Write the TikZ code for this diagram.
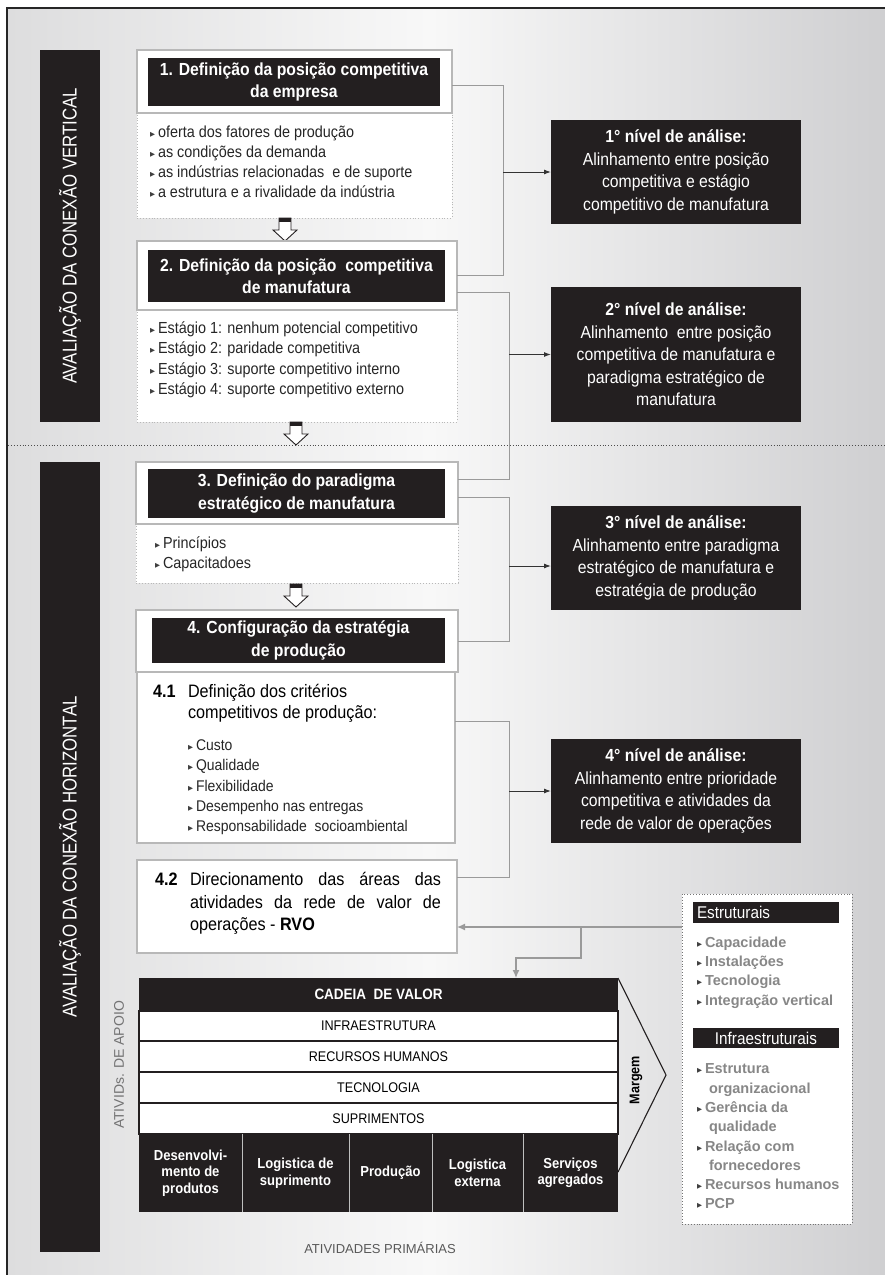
\documentclass[tikz,border=0pt]{standalone}
\usepackage{fontspec}
\setmainfont{Liberation Sans}[FakeStretch=0.9]
\newfontfamily\narrowfont{Liberation Sans}[FakeStretch=0.84]
\newfontfamily\wideFont{Liberation Sans}
\newfontfamily\symfont{DejaVu Sans}
\usetikzlibrary{arrows.meta}
\definecolor{blk}{HTML}{231F20}
\definecolor{bgL}{HTML}{DDDDDE}
\definecolor{bgM}{HTML}{F8F8F8}
\definecolor{bgR}{HTML}{CFCFD1}
\definecolor{lineg}{HTML}{9A9A9A}
\definecolor{boxg}{HTML}{B8B8B8}
\definecolor{itemg}{HTML}{878787}
\newcommand\fs[2]{\fontsize{#1}{#2}\selectfont}
\newcommand\bul{{\symfont\fs{6.5}{7}\color{black!75}\raisebox{0.25ex}{▶}}\hspace{3pt}}
\begin{document}
\begin{tikzpicture}[x=1pt,y=-1pt,
  every node/.style={inner sep=0pt, outer sep=0pt},
  outerbox/.style={draw=boxg, fill=white, line width=1.1pt, anchor=north west},
  listbox/.style={draw=boxg, fill=white, dotted, line width=0.9pt, anchor=north west},
  titlebox/.style={fill=blk, text=white, align=center, font=\bfseries\fs{17.5}{22.5}},
  item/.style={anchor=base west, font=\fs{16}{20}, text=black!85},
  nivel/.style={fill=blk, text=white, align=center, font=\fs{17.5}{22.5}, minimum width=250pt},
  bar/.style={fill=blk, text=white, rotate=90, minimum height=60pt, font=\narrowfont\fs{20}{24}},
  conn/.style={draw=lineg, line width=0.9pt},
  arr/.style={draw=black!80, line width=1pt, -{Latex[length=7pt,width=5pt]}},
  garr/.style={draw=lineg, line width=1.3pt, -{Latex[length=8pt,width=7pt]}},
  row/.style={draw=blk, line width=1.2pt, fill=white, minimum width=479pt, anchor=north west, font=\fs{14}{16}},
  prim/.style={fill=blk, text=white, align=center, anchor=north west, minimum height=78pt, font=\bfseries\fs{14.5}{16.5}},
  pitem/.style={anchor=base west, font=\wideFont\bfseries\fs{14.5}{18}, text=itemg},
  blockarrow/.pic={
    \draw[fill=white, line width=0.9pt, draw=blk] (-6,0) -- (6,0) -- (6,12) -- (12,12) -- (0,23) -- (-12,12) -- (-6,12) -- cycle;
    \fill[blk] (-6,0) rectangle (6,3.5);
  }]
\useasboundingbox (0,0) rectangle (885,1275);
% background
\fill[white] (0,0) rectangle (885,1275);
\shade[left color=bgL, right color=bgM] (7,8) rectangle (430,1275);
\shade[left color=bgM, right color=bgR] (430,8) rectangle (885,1275);
\draw[line width=1.3pt, black!85] (7,1275) -- (7,8) -- (885,8);

% side bars
\node[bar, minimum width=372pt] (barV) at (70,236) {AVALIAÇÃO DA CONEXÃO VERTICAL};
\node[bar, minimum width=790pt] (barH) at (70,857) {AVALIAÇÃO DA CONEXÃO HORIZONTAL};

% dotted separator
\coordinate (dl) at (8,445);
\coordinate (dr) at (885,445);
\draw[dotted, line width=0.9pt, black!70] (dl) -- (dr);

% box 1
\node[listbox, minimum width=315pt, minimum height=105pt] (l1) at (137,113) {};
\node[outerbox, minimum width=315pt, minimum height=63pt] (b1) at (137,50) {};
\node[titlebox, minimum width=292pt, minimum height=48pt] (t1) at (294,82) {1. Definição da posição competitiva\\da empresa};
\node[item] (l1a) at (150,137) {\bul oferta dos fatores de produção};
\node[item] (l1b) at (150,157) {\bul as condições da demanda};
\node[item] (l1c) at (150,177) {\bul as indústrias relacionadas\ \ e de suporte};
\node[item] (l1d) at (150,197) {\bul a estrutura e a rivalidade da indústria};
\pic at (285,218) {blockarrow};

% box 2
\node[listbox, minimum width=320pt, minimum height=112pt] (l2) at (137,310) {};
\node[outerbox, minimum width=320pt, minimum height=69pt] (b2) at (137,241) {};
\node[titlebox, minimum width=297pt, minimum height=52pt] (t2) at (296.5,276) {2. Definição da posição\ \ competitiva\\de manufatura};
\node[item] (l2a) at (150,333) {\bul Estágio 1: nenhum potencial competitivo};
\node[item] (l2b) at (150,353) {\bul Estágio 2: paridade competitiva};
\node[item] (l2c) at (150,374) {\bul Estágio 3: suporte competitivo interno};
\node[item] (l2d) at (150,394) {\bul Estágio 4: suporte competitivo externo};
\pic at (296,422) {blockarrow};

% box 3
\node[listbox, minimum width=322pt, minimum height=59pt] (l3) at (136,524) {};
\node[outerbox, minimum width=322pt, minimum height=62pt] (b3) at (136,462) {};
\node[titlebox, minimum width=297pt, minimum height=49pt] (t3) at (296.5,493.5) {3. Definição do paradigma\\estratégico de manufatura};
\node[item] (l3a) at (155,548) {\bul Princípios};
\node[item] (l3b) at (155,568) {\bul Capacitadoes};
\pic at (296,584) {blockarrow};

% box 4
\node[outerbox, minimum width=322pt, minimum height=62pt] (b4) at (136,610) {};
\node[titlebox, minimum width=293pt, minimum height=45pt] (t4) at (298.5,640.5) {4. Configuração da estratégia\\de produção};

% box 4.1
\node[outerbox, minimum width=318pt, minimum height=171pt] (b41) at (137,672) {};
\node[anchor=base west, font=\bfseries\fs{18}{21}] (n41) at (153,697) {4.1};
\node[anchor=base west, font=\fs{18}{21}] (d41a) at (188,697) {Definição dos critérios};
\node[anchor=base west, font=\fs{18}{21}] (d41b) at (188,718) {competitivos de produção:};
\node[item, font=\fs{15.5}{20}] (c1) at (188,750) {\bul Custo};
\node[item, font=\fs{15.5}{20}] (c2) at (188,770) {\bul Qualidade};
\node[item, font=\fs{15.5}{20}] (c3) at (188,791) {\bul Flexibilidade};
\node[item, font=\fs{15.5}{20}] (c4) at (188,811) {\bul Desempenho nas entregas};
\node[item, font=\fs{15.5}{20}] (c5) at (188,831) {\bul Responsabilidade\ \ socioambiental};

% box 4.2
\node[outerbox, minimum width=320pt, minimum height=93pt] (b42) at (137,860) {};
\node[anchor=base west, font=\bfseries\fs{18}{22}] (n42) at (155,885) {4.2};
\node[anchor=base west, font=\fs{18}{22}] (d42a) at (190,885) {\makebox[251pt][s]{Direcionamento das áreas das}};
\node[anchor=base west, font=\fs{18}{22}] (d42b) at (190,908) {\makebox[251pt][s]{atividades da rede de valor de}};
\node[anchor=base west, font=\fs{18}{22}] (d42c) at (190,930) {operações - \textbf{RVO}};

% level boxes
\node[nivel, minimum height=104pt] (nv1) at (676,172) {\textbf{1° nível de análise:}\\Alinhamento entre posição\\competitiva e estágio\\competitivo de manufatura};
\node[nivel, minimum height=135pt] (nv2) at (676,354.5) {\textbf{2° nível de análise:}\\Alinhamento\ \ entre posição\\competitiva de manufatura e\\paradigma estratégico de\\manufatura};
\node[nivel, minimum height=104pt] (nv3) at (676,558) {\textbf{3° nível de análise:}\\Alinhamento entre paradigma\\estratégico de manufatura e\\estratégia de produção};
\node[nivel, minimum height=104pt] (nv4) at (676,791) {\textbf{4° nível de análise:}\\Alinhamento entre prioridade\\competitiva e atividades da\\rede de valor de operações};

% brackets
\coordinate (j1) at (503,0);
\coordinate (j2) at (509,0);
\draw[conn] ([yshift=-3.5pt]b1.east) -- ([yshift=-3.5pt]b1.east -| j1) |- (b2.east);
\draw[arr] (nv1.west -| j1) -- (nv1.west);
\draw[conn] ([yshift=-16.5pt]b2.east) -- ([yshift=-16.5pt]b2.east -| j2) |- ([yshift=14pt]b3.east);
\draw[arr] (nv2.west -| j2) -- (nv2.west);
\draw[conn] ([yshift=-4pt]b3.east) -- ([yshift=-4pt]b3.east -| j2) |- (b4.east);
\draw[arr] ([yshift=-8pt]nv3.west -| j2) -- ([yshift=-8pt]nv3.west);
\draw[conn] ([yshift=36.5pt]b41.east) -- ([yshift=36.5pt]b41.east -| j2) |- ([yshift=29.5pt]b42.east);
\draw[arr] (nv4.west -| j2) -- (nv4.west);

% right panel
\node[draw=black!55, dotted, fill=white, line width=0.9pt, minimum width=170pt, minimum height=330pt, anchor=north west] (est) at (682,894) {};
\node[fill=blk, text=white, anchor=west, text width=138pt, inner xsep=4pt, minimum height=21pt, align=left, font=\fs{17}{20}] (hE) at (693,912.5) {Estruturais};
\node[fill=blk, text=white, minimum width=146pt, minimum height=20pt, font=\fs{17}{20}] (hI) at (766,1038) {Infraestruturais};
\node[pitem] (e1) at (697,947) {\bul Capacidade};
\node[pitem] (e2) at (697,966) {\bul Instalações};
\node[pitem] (e3) at (697,985) {\bul Tecnologia};
\node[pitem] (e4) at (697,1005) {\bul Integração vertical};
\node[pitem] (i1) at (697,1073) {\bul Estrutura};
\node[pitem] (i1b) at (709,1093) {organizacional};
\node[pitem] (i2) at (697,1112) {\bul Gerência da};
\node[pitem] (i2b) at (709,1131) {qualidade};
\node[pitem] (i3) at (697,1151) {\bul Relação com};
\node[pitem] (i3b) at (709,1170) {fornecedores};
\node[pitem] (i4) at (697,1189) {\bul Recursos humanos};
\node[pitem] (i5) at (697,1208) {\bul PCP};

% value chain
\node[fill=blk, text=white, minimum width=479pt, minimum height=33pt, anchor=north west, font=\bfseries\fs{15}{16}] (head) at (139,978) {CADEIA\ \ DE VALOR};
\node[row, minimum height=30pt] (r1) at (139,1011) {INFRAESTRUTURA};
\node[row, minimum height=31pt] (r2) at (139,1041) {RECURSOS HUMANOS};
\node[row, minimum height=31pt] (r3) at (139,1072) {TECNOLOGIA};
\node[row, minimum height=31pt] (r4) at (139,1103) {SUPRIMENTOS};
\node[prim, minimum width=103pt] (p1) at (139,1134) {Desenvolvi-\\mento de\\produtos};
\node[prim, minimum width=107pt] (p2) at (242,1134) {Logistica de\\suprimento};
\node[prim, minimum width=83pt] (p3) at (349,1134) {Produção};
\node[prim, minimum width=91pt] (p4) at (432,1134) {Logistica\\externa};
\node[prim, minimum width=95pt] (p5) at (523,1134) {Serviços\\agregados};
\foreach \a in {p1,p2,p3,p4}{\draw[white!75!black, line width=1pt] (\a.north east) -- (\a.south east);}
\coordinate (tip) at (666,1075);
\coordinate (cb) at (618,1172);
\draw[blk, line width=1.1pt] (head.north east) -- (tip) -- (cb);
\node[rotate=90, font=\bfseries\fs{14}{16}] (marg) at (636,1080) {Margem};
\node[rotate=90, text=black!55, font=\wideFont\fs{14}{16}] (apoio) at (119,1065) {ATIVIDs. DE APOIO};
\node[text=black!65, font=\wideFont\fs{13}{16}] (primlbl) at (380,1248) {ATIVIDADES PRIMÁRIAS};

% gray arrows
\coordinate (gy) at (0,927);
\coordinate (br1) at (581,927);
\coordinate (br2) at (516,958);
\draw[garr] (est.west |- gy) -- (b42.east |- gy);
\draw[garr] (br1) |- (br2) -- (br2 |- head.north);
\end{tikzpicture}
\end{document}
